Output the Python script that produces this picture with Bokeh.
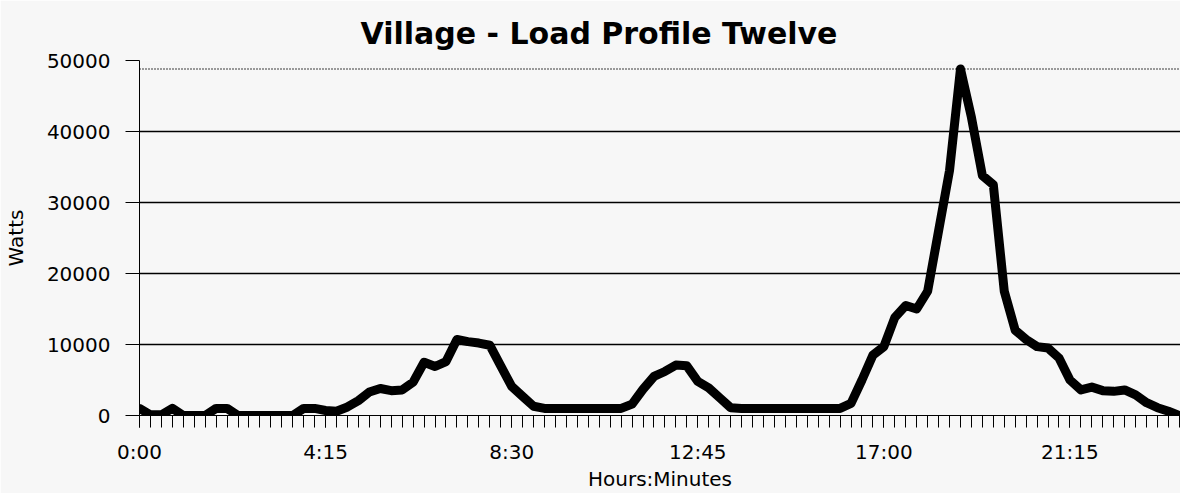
from bokeh.plotting import figure
from bokeh.models import Range1d, FixedTicker, Span, Title
from bokeh.embed import file_html
from bokeh.resources import INLINE

# 15-minute load profile, 0:00 .. 23:45 (96 values, Watts)
watts = [
    1000, 100, 100, 1000, 0, 0, 0, 1000, 1000, 0,
    0, 0, 0, 0, 0, 1000, 1000, 700, 600, 1200,
    2100, 3300, 3800, 3500, 3600, 4700, 7500, 6900, 7600, 10700,
    10400, 10200, 9900, 7000, 4100, 2700, 1300, 1000, 1000, 1000,
    1000, 1000, 1000, 1000, 1000, 1600, 3700, 5500, 6200, 7100,
    7000, 4800, 3900, 2500, 1100, 1000, 1000, 1000, 1000, 1000,
    1000, 1000, 1000, 1000, 1000, 1700, 5000, 8500, 9700, 13800,
    15500, 15000, 17500, 26000, 34500, 48800, 42000, 33800, 32500, 17500,
    12000, 10700, 9700, 9500, 8100, 5000, 3600, 4000, 3500, 3400,
    3600, 2900, 1800, 1100, 600, 0,
]
tick_labels = ["0:00", "4:15", "8:30", "12:45", "17:00", "21:15"]
tick_index = [0, 17, 34, 51, 68, 85]
y_ticks = [0, 10000, 20000, 30000, 40000, 50000]

x = list(range(len(watts)))
BG = "#f7f7f7"
FONT = "DejaVu Sans"

p = figure(frame_width=1041, frame_height=355, output_backend="svg",
           toolbar_location=None,
           x_range=Range1d(0, 95.1), y_range=Range1d(0, 50000),
           min_border_left=134, min_border_right=0, min_border_top=60,
           min_border_bottom=72)
p.background_fill_color = BG
p.border_fill_color = BG
p.outline_line_color = None

p.title = Title(text="Village - Load Profile Twelve", align="left",
                offset=221, text_font=FONT, text_font_size="30px",
                text_font_style="bold", text_color="black", standoff=20)

# x axis
xa = p.xaxis[0]
xa.ticker = FixedTicker(ticks=tick_index, minor_ticks=x)
xa.major_label_overrides = {i: l for i, l in zip(tick_index, tick_labels)}
xa.axis_label = "Hours:Minutes"
xa.axis_label_text_font = FONT
xa.axis_label_text_font_size = "20px"
xa.axis_label_text_font_style = "normal"
xa.axis_label_text_color = "black"
xa.axis_label_standoff = 0
xa.major_label_text_font = FONT
xa.major_label_text_font_size = "20px"
xa.major_label_standoff = 12
xa.major_tick_out = 12
xa.major_tick_in = 0
xa.minor_tick_out = 12
xa.minor_tick_in = 0
xa.axis_line_color = "black"
xa.major_tick_line_color = "black"
xa.minor_tick_line_color = "black"
xa.major_label_text_color = "black"

# y axis
ya = p.yaxis[0]
ya.ticker = FixedTicker(ticks=y_ticks)
ya.formatter.use_scientific = False
ya.axis_label = "Watts"
ya.axis_label_text_font = FONT
ya.axis_label_text_font_size = "20px"
ya.axis_label_text_font_style = "normal"
ya.axis_label_text_color = "black"
ya.axis_label_standoff = 16
ya.major_label_text_font = FONT
ya.major_label_text_font_size = "20px"
ya.major_label_standoff = 15
ya.major_tick_out = 14
ya.major_tick_in = 0
ya.minor_tick_line_color = None
ya.axis_line_color = "black"
ya.major_tick_line_color = "black"
ya.major_label_text_color = "black"

p.xgrid.grid_line_color = None
p.ygrid.grid_line_color = "black"
p.ygrid.grid_line_width = 1.3

# dotted line at the peak value
p.add_layout(Span(location=max(watts), dimension="width", line_color="black",
                  line_dash="1 2", line_width=1.5))

p.line(x, watts, line_color="black", line_width=9, line_join="round",
       line_cap="round")

open("out.html", "w").write(file_html(p, INLINE))
